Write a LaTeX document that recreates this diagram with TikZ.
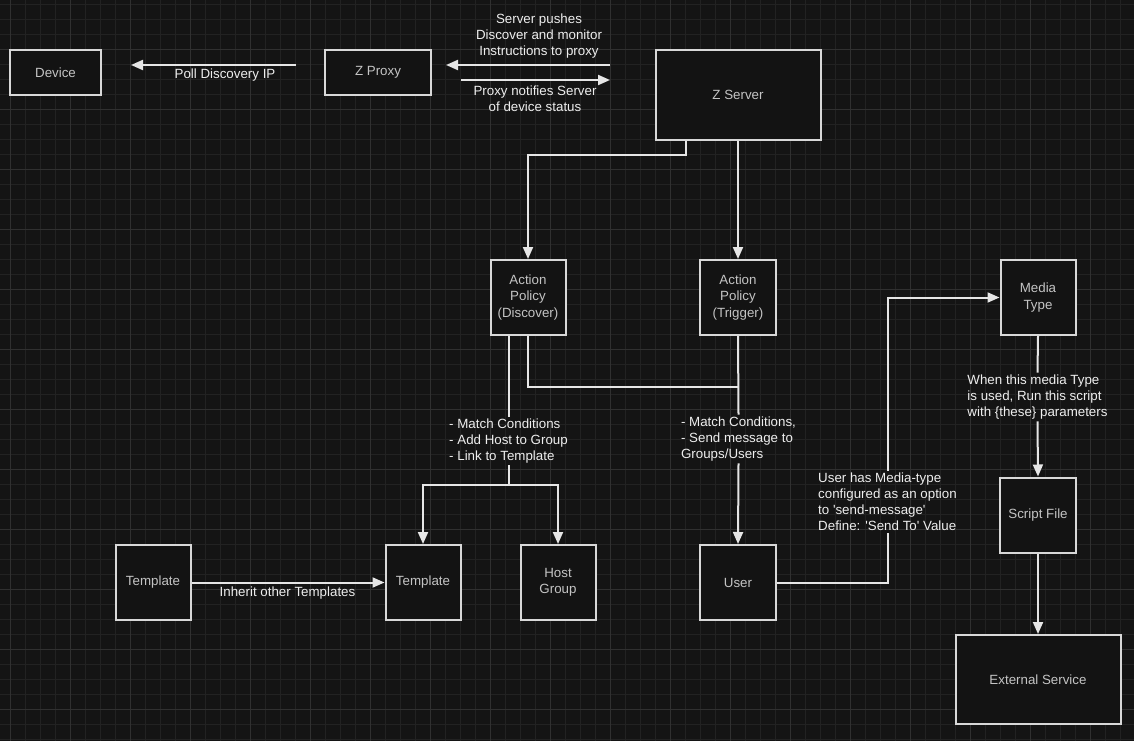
\documentclass[tikz,border=0pt]{standalone}
\usepackage{fontspec}
\setmainfont{Liberation Sans}[Ligatures=TeXOff]
\usetikzlibrary{arrows.meta}
\definecolor{bg}{HTML}{141414}
\definecolor{gminor}{HTML}{222222}
\definecolor{gmajor}{HTML}{303030}
\definecolor{boxline}{HTML}{D8D8D8}
\definecolor{boxtext}{HTML}{C4C4C4}
\definecolor{linec}{HTML}{E6E6E6}
\definecolor{labtext}{HTML}{EEEEEE}
\definecolor{boxfill}{HTML}{131313}
\begin{document}
\begin{tikzpicture}[x=1pt,y=-1pt,
  box/.style={draw=boxline, fill=boxfill, line width=2pt, text=boxtext,
    font=\fontsize{13.33}{16.5}\selectfont, align=center, inner sep=0pt},
  conn/.style={draw=linec, line width=2pt},
  arr/.style={conn, -{Triangle[length=12pt,width=10pt]}},
  lab/.style={text=labtext, font=\fontsize{13.33}{16}\selectfont, inner xsep=0pt, inner ysep=2pt},
]
\fill[bg] (0,0) rectangle (1134,741);
\useasboundingbox (0,0) rectangle (1134,741);
% grid
\foreach \i in {0,...,75} \draw[gminor, line width=1pt] ({10.5+15*\i},0) -- ({10.5+15*\i},741);
\foreach \i in {0,...,49} \draw[gminor, line width=1pt] (0,{4.5+15*\i}) -- (1134,{4.5+15*\i});
\foreach \i in {0,...,18} \draw[gmajor, line width=1pt] ({10.5+60*\i},0) -- ({10.5+60*\i},741);
\foreach \i in {0,...,11} \draw[gmajor, line width=1pt] (0,{49.5+60*\i}) -- (1134,{49.5+60*\i});

% boxes
\node[box, minimum width=91pt, minimum height=45pt] (device) at (55.5,72.5) {Device};
\node[box, minimum width=106pt, minimum height=45pt] (proxy) at (378,72.5) {Z Proxy};
\node[box, minimum width=165pt, minimum height=90pt] (server) at (738,95) {Z Server};
\node[box, minimum width=75pt, minimum height=75pt] (disc) at (528,297.5) {Action\\Policy\\(Discover)};
\node[box, minimum width=76pt, minimum height=75pt] (trig) at (738,297.5) {Action\\Policy\\(Trigger)};
\node[box, minimum width=75pt, minimum height=75pt] (media) at (1038,297.5) {Media\\Type};
\node[box, minimum width=75pt, minimum height=75pt] (tmpla) at (153,582.5) {Template};
\node[box, minimum width=75pt, minimum height=75pt] (tmplb) at (423,582.5) {Template};
\node[box, minimum width=75pt, minimum height=75pt] (hostg) at (558,582.5) {Host\\Group};
\node[box, minimum width=76pt, minimum height=75pt] (user) at (738,582.5) {User};
\node[box, minimum width=76pt, minimum height=75pt] (script) at (1038,515) {Script File};
\node[box, minimum width=165pt, minimum height=89pt] (ext) at (1038,679.5) {External Service};

% labels
\node[lab] (pollL) at (225,75) {Poll Discovery IP};
\node[lab, align=center] (pushL) at (539,36) {Server pushes\\Discover and monitor\\Instructions to proxy};
\node[lab, align=center] (notifL) at (535,98.5) {Proxy notifies Server\\of device status};
\node[lab, align=left] (labA) at (508.5,441) {- Match Conditions\\- Add Host to Group\\- Link to Template};
\node[lab, align=left] (labB) at (738.5,439) {- Match Conditions,\\- Send message to\\Groups/Users};
\node[lab, align=left] (labC) at (887.5,502) {User has Media-type\\configured as an option\\to 'send-message'\\Define: 'Send To' Value};
\node[lab, align=left] (labD) at (1037.5,397) {When this media Type\\is used, Run this script\\with \{these\} parameters};
\node[lab] (inhL) at (287.5,593.5) {Inherit other Templates};

% free ends
\coordinate (pollA) at (296,65);
\coordinate (pollB) at (131,65);
\coordinate (pushA) at (610,65);
\coordinate (pushB) at (446,65);
\coordinate (notA) at (461,80);
\coordinate (notB) at (610,80);
\coordinate (sbend) at (685.5,155);
\coordinate (split) at (508.5,484.7);
\coordinate (joint) at (738,387);
\coordinate (ubend) at (887.5,582.5);

% connectors
\draw[arr] (pollA) -- (pollB);
\draw[arr] (pushA) -- (pushB);
\draw[arr] (notA) -- (notB);
\draw[arr] (server.south -| sbend) -- (sbend) -| (disc.north);
\draw[arr] (server.south) -- (trig.north);
\draw[conn] (disc.south -| labA.north) -- (labA.north);
\draw[arr] (labA.south) -- (split) -| (tmplb.north);
\draw[arr] (split) -| (hostg.north);
\draw[conn] (disc.south) |- (joint);
\draw[conn] (trig.south) -- (labB.north);
\draw[arr] (labB.south) -- (user.north);
\draw[conn] (user.east) -- (ubend) -- (labC.south);
\draw[arr] (labC.north) |- (media.west);
\draw[conn] (media.south) -- (labD.north);
\draw[arr] (labD.south) -- (script.north);
\draw[arr] (script.south) -- (ext.north);
\draw[arr] (tmpla.east) -- (tmplb.west);
\end{tikzpicture}
\end{document}
